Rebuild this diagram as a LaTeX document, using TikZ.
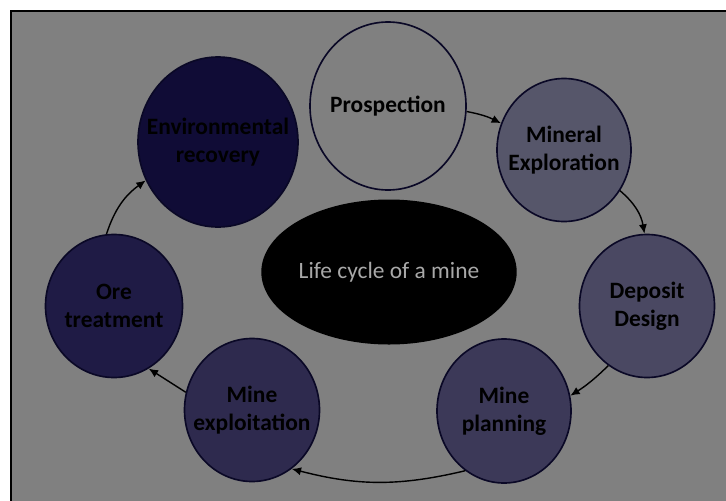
\documentclass[tikz,border=0pt]{standalone}
\usepackage{fontspec}
\setmainfont{Carlito}
\usetikzlibrary{shapes.geometric,arrows.meta}

\definecolor{paneGray}{HTML}{808080}
\definecolor{ringNavy}{HTML}{0A0826}
\definecolor{stageA}{HTML}{56566A}
\definecolor{stageB}{HTML}{4A4862}
\definecolor{stageC}{HTML}{3C3958}
\definecolor{stageD}{HTML}{2E2A4E}
\definecolor{stageE}{HTML}{1F1B45}
\definecolor{stageF}{HTML}{100C36}
\definecolor{hubText}{HTML}{A8A8A8}

\begin{document}
\begin{tikzpicture}[x=0.03cm, y=-0.03cm,
  stage/.style={ellipse, draw=ringNavy, line width=1.4pt, inner sep=0pt},
  stagetext/.style={font=\fontsize{20}{24}\selectfont\bfseries, align=center, text=black},
  flow/.style={-{Latex[length=8pt,width=7pt]}, line width=1.2pt, black}]
  \useasboundingbox (0,0) rectangle (726,500);
  \clip (0,0) rectangle (726,500);
  % background panel
  \fill[white] (0,0) rectangle (726,500);
  \filldraw[fill=paneGray, draw=black, line width=1.8pt] (11,11) rectangle (740,515);

  % hub
  \node[ellipse, fill=black, inner sep=0pt, minimum width=7.26cm, minimum height=4.35cm,
        font=\fontsize{20}{24}\selectfont, text=hubText] (hub) at (389,272) {Life cycle of a mine};

  % stages, clockwise from the top
  \node[stage, minimum width=4.68cm, minimum height=5.04cm,
        label={[stagetext]center:Prospection}] (pro) at (388,106) {};
  \node[stage, fill=stageA, minimum width=4.02cm, minimum height=4.29cm,
        label={[stagetext]center:Mineral\\Exploration}] (mex) at (564,150) {};
  \node[stage, fill=stageB, minimum width=4.05cm, minimum height=4.29cm,
        label={[stagetext]center:Deposit\\Design}] (dep) at (647,306) {};
  \node[stage, fill=stageC, minimum width=4.02cm, minimum height=4.32cm,
        label={[stagetext]center:Mine\\planning}] (plan) at (504,411) {};
  \node[stage, fill=stageD, minimum width=4.05cm, minimum height=4.29cm,
        label={[stagetext]center:Mine\\exploitation}] (expl) at (252,410) {};
  \node[stage, fill=stageE, minimum width=4.11cm, minimum height=4.29cm,
        label={[stagetext]center:Ore\\treatment}] (ore) at (114,306) {};
  \node[stage, fill=stageF, minimum width=4.8cm, minimum height=5.1cm,
        label={[stagetext]center:Environmental\\recovery}] (env) at (218,142) {};

  % cycle arrows
  \draw[flow] (pro.-4) to[bend left=8] (mex.157);
  \draw[flow] (mex.-36) to[bend left=20] (dep.92);
  \draw[flow] (dep.-123) to[bend left=6] (plan.13);
  \draw[flow] (plan.-123) to[bend left=14] (expl.-56);
  \draw[flow] (expl.165) to (ore.-61);
  \draw[flow] (ore.96) to[bend left=18] (env.-152);
\end{tikzpicture}
\end{document}
